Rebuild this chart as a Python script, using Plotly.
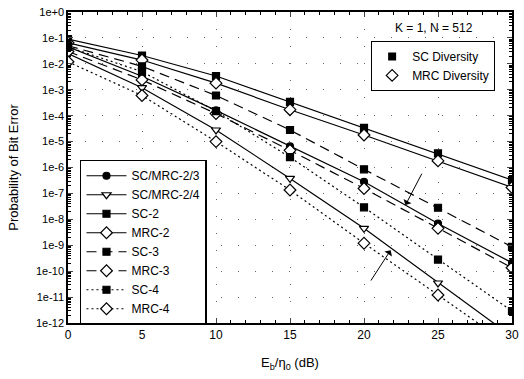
import plotly.graph_objects as go

ebn0 = [0, 5, 10, 15, 20, 25, 30]

sc_mrc_2_3 = [4.5e-2, 3.3e-3, 1.6e-4, 6.5e-6, 2.8e-7, 6.9e-9, 2.1e-10]
sc_mrc_2_4 = [2.5e-2, 1.2e-3, 2.8e-5, 3.8e-7, 4.5e-9, 3.5e-11, 3.0e-13]
sc_2 = [9.0e-2, 2.1e-2, 3.4e-3, 3.4e-4, 3.4e-5, 3.5e-6, 3.3e-7]
mrc_2 = [6.5e-2, 1.4e-2, 1.8e-3, 1.7e-4, 1.8e-5, 1.8e-6, 1.7e-7]
sc_3 = [5.0e-2, 8.0e-3, 6.0e-4, 2.8e-5, 8.5e-7, 2.8e-8, 8.7e-10]
mrc_3 = [3.0e-2, 2.4e-3, 1.2e-4, 4.6e-6, 1.55e-7, 4.5e-9, 1.35e-10]
sc_4 = [4.5e-2, 5.0e-3, 1.5e-4, 2.5e-6, 2.9e-8, 2.8e-10, 2.9e-12]
mrc_4 = [1.2e-2, 6.0e-4, 1.0e-5, 1.35e-7, 1.2e-9, 1.2e-11, 1.2e-13]

y_tick_exps = list(range(0, -13, -1))
y_tick_labels = ["1e+0", "1e-1", "1e-2", "1e-3", "1e-4", "1e-5", "1e-6",
                 "1e-7", "1e-8", "1e-9", "1e-10", "1e-11", "1e-12"]
x_ticks = [0, 5, 10, 15, 20, 25, 30]

FONT = "Liberation Sans, Arial, sans-serif"
BLACK = "#000000"

series = [
    ("SC/MRC-2/3", sc_mrc_2_3, "circle", BLACK, "solid", 7),
    ("SC/MRC-2/4", sc_mrc_2_4, "triangle-down", "white", "solid", 8),
    ("SC-2", sc_2, "square", BLACK, "solid", 7),
    ("MRC-2", mrc_2, "diamond", "white", "solid", 9),
    ("SC-3", sc_3, "square", BLACK, "10px,6px", 7),
    ("MRC-3", mrc_3, "diamond", "white", "10px,6px", 9),
    ("SC-4", sc_4, "square", BLACK, "2px,3px", 7),
    ("MRC-4", mrc_4, "diamond", "white", "2px,3px", 9),
]

fig = go.Figure()
for name, vals, sym, fill, dash, size in series:
    fig.add_trace(go.Scatter(
        x=ebn0, y=vals, name=name, mode="lines+markers",
        line=dict(color=BLACK, width=1.2, dash=dash),
        marker=dict(symbol=sym, size=size, color=fill,
                    line=dict(color=BLACK, width=1.2)),
        legend="legend",
    ))

fig.add_trace(go.Scatter(x=[None], y=[None], name="SC Diversity", mode="markers",
                         marker=dict(symbol="square", size=8, color=BLACK),
                         legend="legend2"))
fig.add_trace(go.Scatter(x=[None], y=[None], name="MRC Diversity", mode="markers",
                         marker=dict(symbol="diamond", size=9, color="white",
                                     line=dict(color=BLACK, width=1.2)),
                         legend="legend2"))

fig.update_layout(
    width=524, height=379,
    margin=dict(l=68, r=12, t=12, b=56, autoexpand=False),
    paper_bgcolor="white", plot_bgcolor="white",
    font=dict(family=FONT, size=11, color=BLACK),
    legend=dict(x=0.027, y=0.525, xanchor="left", yanchor="top",
                bordercolor=BLACK, borderwidth=1.5, bgcolor="white",
                font=dict(size=12), itemwidth=40, tracegroupgap=0),
    legend2=dict(x=0.962, y=0.907, xanchor="right", yanchor="top",
                 bordercolor=BLACK, borderwidth=1, bgcolor="white",
                 font=dict(size=12)),
    showlegend=True,
)

fig.update_xaxes(
    range=[0, 30], tickvals=x_ticks, ticks="inside", ticklen=5,
    showline=True, linecolor=BLACK, linewidth=1.5, mirror="allticks",
    showgrid=True, gridcolor="#666666", gridwidth=1, griddash="1px,16px",
    zeroline=False, tickfont=dict(size=12), automargin=False,
    minor=dict(dtick=1, ticks="inside", ticklen=3, tickcolor=BLACK, showgrid=False),
    title=dict(text="E<sub>b</sub>/η<sub>0</sub> (dB)", font=dict(size=13), standoff=17),
)
fig.update_yaxes(
    type="log", range=[-12, 0],
    tickvals=[10.0 ** e for e in y_tick_exps], ticktext=y_tick_labels,
    ticks="inside", ticklen=5,
    showline=True, linecolor=BLACK, linewidth=1.5, mirror="allticks",
    showgrid=True, gridcolor="#666666", gridwidth=1, griddash="1px,16px",
    zeroline=False, tickfont=dict(size=11), automargin=False,
    minor=dict(dtick="D1", ticks="inside", ticklen=3, tickcolor=BLACK, showgrid=False),
    title=dict(text="Probability of Bit Error", font=dict(size=13), standoff=14),
)

fig.add_annotation(x=0.917, y=0.949, xref="paper", yref="paper",
                   text="K = 1, N = 512", showarrow=False,
                   xanchor="right", yanchor="middle", font=dict(size=12))

# arrows (log-axis annotation coordinates are exponents)
fig.add_annotation(x=22.8, y=-7.45, ax=23.96, ay=-6.18, axref="x", ayref="y",
                   xref="x", yref="y", text="", showarrow=True,
                   arrowhead=1, arrowsize=1.5, arrowwidth=1, arrowcolor=BLACK)
fig.add_annotation(x=21.8, y=-9.19, ax=20.4, ay=-10.42, axref="x", ayref="y",
                   xref="x", yref="y", text="", showarrow=True,
                   arrowhead=1, arrowsize=1.5, arrowwidth=1, arrowcolor=BLACK)

fig.write_html("out.html",
               config={"displayModeBar": False},
               post_script="document.body.style.margin='0';document.body.style.overflow='hidden';")
